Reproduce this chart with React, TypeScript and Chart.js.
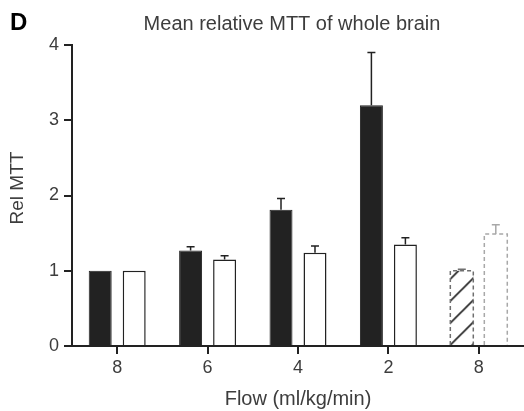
import { useEffect, useRef } from 'react';
import { Chart, registerables } from 'chart.js';

Chart.register(...registerables);

// Flow steps along the x axis (the last group is the repeated 8 ml/kg/min baseline)
const flowLabels = ['8', '6', '4', '2', '8'];
// Filled series: means and upper error (SD) per flow step
const darkMeans = [1.0, 1.27, 1.81, 3.2, 1.0];
const darkErrors = [0, 0.05, 0.15, 0.7, 0.02];
// Open series: means and upper error (SD) per flow step
const lightMeans = [1.0, 1.15, 1.24, 1.35, 1.49];
const lightErrors = [0, 0.05, 0.09, 0.09, 0.12];
// Y axis range and step
const yMin = 0;
const yMax = 4;
const yStep = 1;

const panelLetter = 'D';
const chartTitle = 'Mean relative MTT of whole brain';
const xTitle = 'Flow (ml/kg/min)';
const yTitle = 'Rel MTT';

// group drawn with dashed outlines (hatched / open)
const dashedIndex = 4;

const FONT = '"Liberation Sans", Arial, Helvetica, sans-serif';
const INK = '#222222';
const TEXT = '#3d3d3d';
const GREY_DARK = '#6f6f6f';
const GREY_LIGHT = '#a8a8a8';

function makeHatch(): CanvasPattern {
  const size = 22;
  const c = document.createElement('canvas');
  c.width = size;
  c.height = size;
  const g = c.getContext('2d')!;
  g.fillStyle = '#ffffff';
  g.fillRect(0, 0, size, size);
  g.strokeStyle = '#262626';
  g.lineWidth = 1.6;
  g.beginPath();
  g.moveTo(-2, size + 2);
  g.lineTo(size + 2, -2);
  g.moveTo(-2, 2);
  g.lineTo(2, -2);
  g.moveTo(size - 2, size + 2);
  g.lineTo(size + 2, size - 2);
  g.stroke();
  return g.createPattern(c, 'repeat')!;
}

export default function App() {
  const canvasRef = useRef<HTMLCanvasElement | null>(null);

  useEffect(() => {
    const canvas = canvasRef.current;
    if (!canvas) return;
    const hatch = makeHatch();

    // anchor the hatch so a stroke starts in the bar's bottom-left corner
    const hatchAnchor = {
      id: 'hatchAnchor',
      beforeDatasetsDraw(chart: any) {
        const bar = chart.getDatasetMeta(0).data[dashedIndex];
        if (!bar) return;
        const p = bar.getProps(['x', 'base', 'width'], true);
        hatch.setTransform(new DOMMatrix().translate(p.x - p.width / 2, p.base));
      },
    };

    const dashedOutlines = {
      id: 'dashedOutlines',
      afterDatasetsDraw(chart: any) {
        const { ctx } = chart;
        [GREY_DARK, GREY_LIGHT].forEach((color, di) => {
          const bar = chart.getDatasetMeta(di).data[dashedIndex];
          if (!bar) return;
          const p = bar.getProps(['x', 'y', 'base', 'width'], true);
          const l = p.x - p.width / 2;
          const r = p.x + p.width / 2;
          ctx.save();
          ctx.strokeStyle = color;
          ctx.lineWidth = 1.5;
          ctx.setLineDash([4, 3]);
          ctx.beginPath();
          ctx.moveTo(l, p.base);
          ctx.lineTo(l, p.y);
          ctx.lineTo(r, p.y);
          ctx.lineTo(r, p.base);
          ctx.stroke();
          ctx.restore();
        });
      },
    };

    const errorBars = {
      id: 'errorBars',
      afterDatasetsDraw(chart: any) {
        const { ctx } = chart;
        const y = chart.scales.y;
        [darkErrors, lightErrors].forEach((errs, di) => {
          const means = chart.data.datasets[di].data as number[];
          chart.getDatasetMeta(di).data.forEach((bar: any, i: number) => {
            const err = errs[i];
            if (!err) return;
            const p = bar.getProps(['x', 'y'], true);
            const top = y.getPixelForValue(means[i] + err);
            ctx.save();
            ctx.strokeStyle = i === dashedIndex ? (di === 0 ? GREY_DARK : GREY_LIGHT) : INK;
            ctx.lineWidth = 1.5;
            ctx.beginPath();
            ctx.moveTo(p.x, p.y);
            ctx.lineTo(p.x, top);
            ctx.moveTo(p.x - 4, top);
            ctx.lineTo(p.x + 4, top);
            ctx.stroke();
            ctx.restore();
          });
        });
      },
    };

    const headings = {
      id: 'headings',
      afterDraw(chart: any) {
        const { ctx } = chart;
        ctx.save();
        ctx.textBaseline = 'alphabetic';
        ctx.fillStyle = '#000000';
        ctx.textAlign = 'left';
        ctx.font = `bold 24px ${FONT}`;
        ctx.fillText(panelLetter, 10, 30);
        ctx.fillStyle = TEXT;
        ctx.textAlign = 'center';
        ctx.font = `20px ${FONT}`;
        ctx.fillText(chartTitle, 292, 30);
        // rotated y-axis title
        ctx.translate(17.5, 188);
        ctx.rotate(-Math.PI / 2);
        ctx.textBaseline = 'middle';
        ctx.font = `19px ${FONT}`;
        ctx.fillText(yTitle, 0, 0);
        ctx.restore();
      },
    };

    const chart = new Chart(canvas, {
      type: 'bar',
      data: {
        labels: flowLabels,
        datasets: [
          {
            data: darkMeans,
            backgroundColor: darkMeans.map((_, i) => (i === dashedIndex ? hatch : INK)),
            borderColor: INK,
            borderWidth: darkMeans.map((_, i) => (i === dashedIndex ? 0 : 1)),
            categoryPercentage: 0.752,
            barPercentage: 0.676,
          },
          {
            data: lightMeans,
            backgroundColor: '#ffffff',
            borderColor: INK,
            borderWidth: lightMeans.map((_, i) => (i === dashedIndex ? 0 : 1.5)),
            categoryPercentage: 0.752,
            barPercentage: 0.676,
          },
        ],
      },
      options: {
        responsive: false,
        animation: false,
        events: [],
        layout: { padding: { top: 45, right: 0, bottom: 0, left: 0 } },
        plugins: {
          legend: { display: false },
          tooltip: { enabled: false },
          title: { display: false },
        },
        scales: {
          x: {
            z: 1,
            offset: true,
            grid: {
              offset: false,
              drawOnChartArea: false,
              drawTicks: true,
              tickLength: 8,
              color: INK,
              lineWidth: 2,
            },
            border: { display: true, color: INK, width: 2 },
            ticks: {
              color: TEXT,
              padding: 3,
              font: { family: FONT, size: 18 },
              maxRotation: 0,
            },
            title: {
              display: true,
              text: xTitle,
              color: TEXT,
              font: { family: FONT, size: 20, lineHeight: 1.2 },
              padding: { top: 0, bottom: 0 },
            },
            afterFit(scale: any) {
              scale.height = 65;
            },
          },
          y: {
            min: yMin,
            max: yMax,
            grid: {
              drawOnChartArea: false,
              drawTicks: true,
              tickLength: 8,
              color: INK,
              lineWidth: 2,
            },
            border: { display: true, color: INK, width: 2 },
            ticks: {
              stepSize: yStep,
              color: TEXT,
              padding: 5,
              font: { family: FONT, size: 18 },
            },
            title: { display: false },
            afterFit(scale: any) {
              scale.width = 72;
            },
          },
        },
      },
      plugins: [hatchAnchor, dashedOutlines, errorBars, headings],
    });

    return () => chart.destroy();
  }, []);

  return (
    <div style={{ position: 'absolute', left: 0, top: 0, width: 524, height: 411, background: '#ffffff' }}>
      <canvas ref={canvasRef} width={524} height={411} />
    </div>
  );
}
